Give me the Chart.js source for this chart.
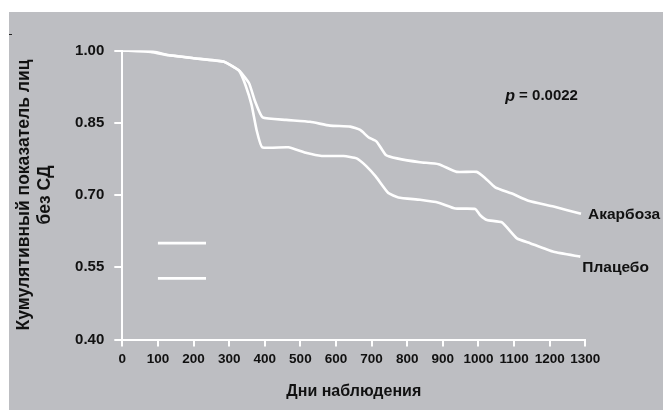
<!DOCTYPE html>
<html>
<head>
<meta charset="utf-8">
<script src="https://cdn.jsdelivr.net/npm/chart.js@4.4.1/dist/chart.umd.min.js"></script>
<style>
  html, body { margin: 0; padding: 0; background: #fff; }
  #wrap { position: absolute; left: 9px; top: 12px; width: 654px; height: 398px; background: #bdbec2; }
  #dash { position: absolute; left: 9px; top: 34px; width: 3px; height: 1px; background: #222; }
</style>
</head>
<body>
<div id="wrap"><canvas id="myChart" width="654" height="398"></canvas></div>
<div id="dash"></div>
<script>
// days of follow-up and share of people without diabetes
let acarboseDays = [0, 75, 125, 200, 284, 312, 330, 356, 373, 394, 460, 527, 583, 640, 668, 691, 714, 740, 771, 836, 888, 939, 995, 1019, 1047, 1094, 1140, 1211, 1288];
let acarboseValues = [1.00, 1.00, 0.991, 0.984, 0.977, 0.966, 0.957, 0.932, 0.894, 0.861, 0.856, 0.852, 0.844, 0.842, 0.835, 0.820, 0.811, 0.783, 0.776, 0.768, 0.764, 0.748, 0.748, 0.735, 0.716, 0.703, 0.688, 0.676, 0.661];

let placeboDays = [0, 80, 130, 200, 284, 312, 328, 346, 363, 377, 393, 466, 518, 560, 621, 658, 685, 712, 747, 775, 836, 888, 935, 991, 1005, 1024, 1066, 1108, 1145, 1211, 1286];
let placeboValues = [1.00, 0.997, 0.990, 0.984, 0.977, 0.966, 0.958, 0.928, 0.887, 0.835, 0.799, 0.799, 0.787, 0.781, 0.781, 0.776, 0.760, 0.738, 0.704, 0.695, 0.690, 0.684, 0.672, 0.671, 0.658, 0.648, 0.643, 0.610, 0.600, 0.582, 0.572];

// the two unlabeled legend swatches
let legendDays = [100, 235];
let legendTop = [0.600, 0.600];
let legendBottom = [0.527, 0.527];

let xTicks = [0, 100, 200, 300, 400, 500, 600, 700, 800, 900, 1000, 1100, 1200, 1300];
let yTicks = [0.40, 0.55, 0.70, 0.85, 1.00];

let seriesNames = ["Акарбоза", "Плацебо"];
let pValue = "0.0022";

function toPoints(xs, ys) {
  return xs.map((x, i) => ({ x: x, y: ys[i] }));
}

const font = "'Liberation Sans', Arial, sans-serif";

function lineSet(label, xs, ys, tension) {
  return {
    label: label,
    data: toPoints(xs, ys),
    borderColor: "#ffffff",
    borderWidth: 2.6,
    pointRadius: 0,
    tension: tension,
    fill: false
  };
}

// text next to the curves and the p value
const notes = {
  id: "notes",
  afterDatasetsDraw(chart) {
    const c = chart.ctx;
    const xs = chart.scales.x;
    const ys = chart.scales.y;
    c.save();
    c.fillStyle = "#111";
    c.textBaseline = "middle";
    c.textAlign = "left";
    c.font = "bold 15.5px " + font;
    let ax = xs.getPixelForValue(acarboseDays[acarboseDays.length - 1]);
    let ay = ys.getPixelForValue(acarboseValues[acarboseValues.length - 1]);
    c.fillText(seriesNames[0], ax + 7, ay + 1);
    let px = xs.getPixelForValue(placeboDays[placeboDays.length - 1]);
    let py = ys.getPixelForValue(placeboValues[placeboValues.length - 1]);
    c.fillText(seriesNames[1], px + 2, py + 11);

    let tx = xs.getPixelForValue(1075);
    let ty = ys.getPixelForValue(0.905);
    c.font = "italic bold 16px " + font;
    c.fillText("p", tx, ty);
    let w = c.measureText("p").width;
    c.font = "bold 15px " + font;
    c.fillText(" = " + pValue, tx + w, ty);
    c.restore();
  }
};

const ctx = document.getElementById("myChart");
new Chart(ctx, {
  type: "line",
  data: {
    datasets: [
      lineSet(seriesNames[0], acarboseDays, acarboseValues, 0.15),
      lineSet(seriesNames[1], placeboDays, placeboValues, 0.15),
      lineSet("", legendDays, legendTop, 0),
      lineSet("", legendDays, legendBottom, 0)
    ]
  },
  options: {
    responsive: false,
    animation: false,
    layout: { padding: { top: 38.5, right: 77.7, left: 0, bottom: 0 } },
    plugins: { legend: { display: false }, tooltip: { enabled: false } },
    scales: {
      x: {
        type: "linear",
        min: 0,
        max: 1300,
        afterBuildTicks: (scale) => { scale.ticks = xTicks.map(v => ({ value: v })); },
        afterFit: (scale) => { scale.height = 70.5; },
        border: { color: "#ffffff", width: 2 },
        grid: { drawOnChartArea: false, color: "#ffffff", lineWidth: 2, tickLength: 7 },
        ticks: {
          color: "#111",
          padding: 5,
          maxRotation: 0,
          autoSkip: false,
          callback: (v) => String(v),
          font: { family: font, size: 13.5, weight: "bold" }
        },
        title: {
          display: true,
          text: "Дни наблюдения",
          color: "#111",
          padding: { top: 0, bottom: 9 },
          font: { family: font, size: 16, weight: "bold" }
        }
      },
      y: {
        min: 0.40,
        max: 1.00,
        afterBuildTicks: (scale) => { scale.ticks = yTicks.map(v => ({ value: v })); },
        afterFit: (scale) => { scale.width = 113.3; },
        border: { color: "#ffffff", width: 2 },
        grid: { drawOnChartArea: false, color: "#ffffff", lineWidth: 2, tickLength: 8 },
        ticks: {
          color: "#111",
          padding: 10,
          callback: (v) => Number(v).toFixed(2),
          font: { family: font, size: 15, weight: "bold" }
        },
        title: {
          display: true,
          text: ["Кумулятивный показатель лиц", "без СД"],
          color: "#111",
          padding: { top: 5, bottom: 0 },
          font: { family: font, size: 17.5, weight: "bold", lineHeight: 1.2 }
        }
      }
    }
  },
  plugins: [notes]
});
</script>
</body>
</html>
